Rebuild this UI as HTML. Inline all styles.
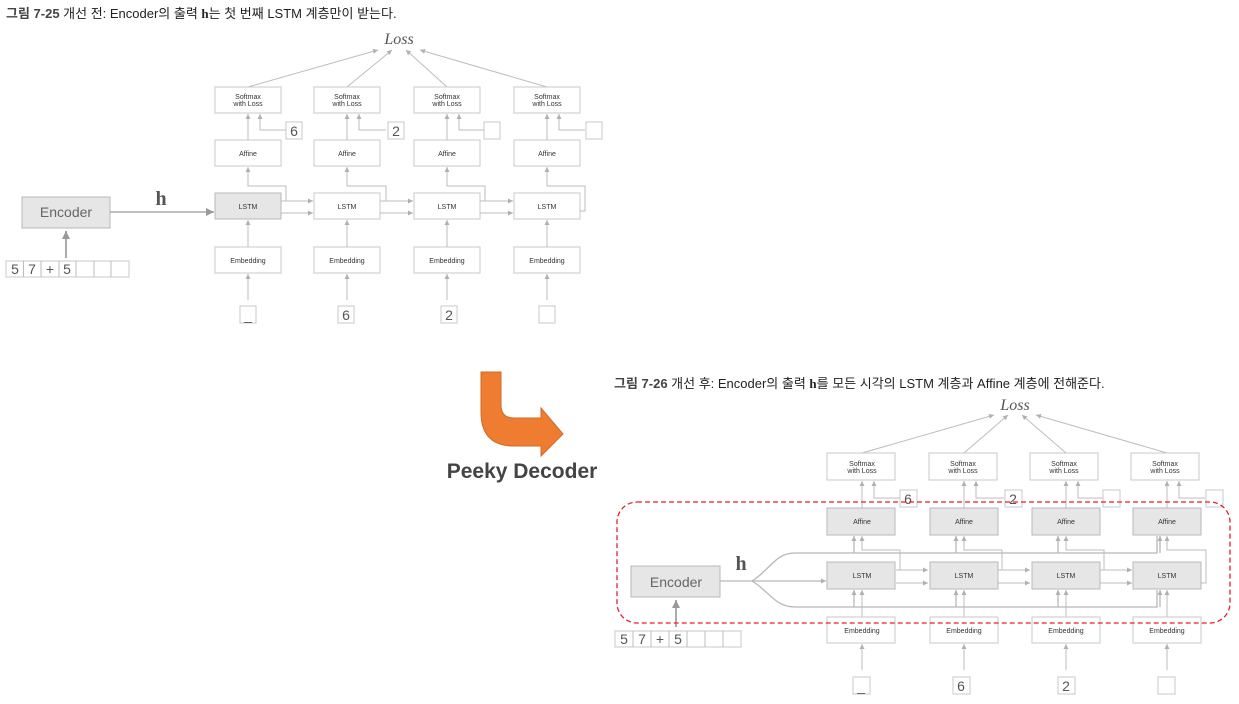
<!DOCTYPE html>
<html><head><meta charset="utf-8"><style>
body{margin:0;background:#fff;}
svg{display:block;font-family:"Liberation Sans","Noto Sans CJK KR",sans-serif;}
.b{fill:#fff;stroke:#c8c8c8;stroke-width:1}
.g{fill:#e6e6e6;stroke:#b8b8b8;stroke-width:1}
.l{fill:none;stroke:#bdbdbd;stroke-width:1}
.t{font-size:7px;fill:#333;text-anchor:middle}
.n{font-size:14px;fill:#555;text-anchor:middle}
</style></head><body>
<svg width="1239" height="704" viewBox="0 0 1239 704">
<defs><marker id="a" markerWidth="6" markerHeight="6" refX="5" refY="3" orient="auto" markerUnits="userSpaceOnUse"><path d="M0,0.5L5,3L0,5.5z" fill="#b0b0b0"/></marker>
<marker id="A" markerWidth="10" markerHeight="10" refX="8" refY="5" orient="auto" markerUnits="userSpaceOnUse"><path d="M0,1L8,5L0,9z" fill="#999"/></marker></defs>

<text x="6" y="18" font-size="13" fill="#222"><tspan font-weight="bold" fill="#444">그림 7-25</tspan>  개선 전: Encoder의 출력 <tspan font-family="Liberation Serif" font-weight="bold">h</tspan>는 첫 번째 LSTM 계층만이 받는다.</text>
<text x="399" y="44" font-size="16" font-style="italic" font-family="Liberation Serif" fill="#555" text-anchor="middle">Loss</text>

<g class="l">
<line x1="248" y1="87" x2="378" y2="50" marker-end="url(#a)"/>
<line x1="347" y1="87" x2="392" y2="50" marker-end="url(#a)"/>
<line x1="447" y1="87" x2="406" y2="50" marker-end="url(#a)"/>
<line x1="547" y1="87" x2="420" y2="50" marker-end="url(#a)"/>
</g>
<g>
<rect class="g" x="22" y="197" width="88" height="31"/>
<text x="66" y="217" font-size="14" fill="#666" text-anchor="middle">Encoder</text>
<line x1="66" y1="258" x2="66" y2="231" stroke="#aaa" stroke-width="2" marker-end="url(#A)"/>
<line x1="110" y1="212" x2="214" y2="212" stroke="#aaa" stroke-width="1.5" marker-end="url(#A)"/>
<text x="161" y="205" font-size="20" font-weight="bold" font-family="Liberation Serif" fill="#555" text-anchor="middle">h</text>
<rect class="b" x="6" y="261" width="123" height="16"/>
<g class="l"><line x1="23.5" y1="261" x2="23.5" y2="277"/><line x1="41" y1="261" x2="41" y2="277"/><line x1="59" y1="261" x2="59" y2="277"/><line x1="76" y1="261" x2="76" y2="277"/><line x1="94" y1="261" x2="94" y2="277"/><line x1="111" y1="261" x2="111" y2="277"/></g>
<text class="n" x="15" y="274">5</text><text class="n" x="32" y="274">7</text><text class="n" x="50" y="274">+</text><text class="n" x="67" y="274">5</text>
</g>

<g>
<rect class="b" x="215" y="87" width="66" height="26"/><text class="t" x="248" y="99">Softmax</text><text class="t" x="248" y="106">with Loss</text>
<rect class="b" x="314" y="87" width="66" height="26"/><text class="t" x="347" y="99">Softmax</text><text class="t" x="347" y="106">with Loss</text>
<rect class="b" x="414" y="87" width="66" height="26"/><text class="t" x="447" y="99">Softmax</text><text class="t" x="447" y="106">with Loss</text>
<rect class="b" x="514" y="87" width="66" height="26"/><text class="t" x="547" y="99">Softmax</text><text class="t" x="547" y="106">with Loss</text>

<rect class="b" x="215" y="140" width="66" height="26"/><text class="t" x="248" y="156">Affine</text>
<rect class="b" x="314" y="140" width="66" height="26"/><text class="t" x="347" y="156">Affine</text>
<rect class="b" x="414" y="140" width="66" height="26"/><text class="t" x="447" y="156">Affine</text>
<rect class="b" x="514" y="140" width="66" height="26"/><text class="t" x="547" y="156">Affine</text>

<rect class="g" x="215" y="193" width="66" height="26"/><text class="t" x="248" y="209">LSTM</text>
<rect class="b" x="314" y="193" width="66" height="26"/><text class="t" x="347" y="209">LSTM</text>
<rect class="b" x="414" y="193" width="66" height="26"/><text class="t" x="447" y="209">LSTM</text>
<rect class="b" x="514" y="193" width="66" height="26"/><text class="t" x="547" y="209">LSTM</text>

<rect class="b" x="215" y="247" width="66" height="26"/><text class="t" x="248" y="263">Embedding</text>
<rect class="b" x="314" y="247" width="66" height="26"/><text class="t" x="347" y="263">Embedding</text>
<rect class="b" x="414" y="247" width="66" height="26"/><text class="t" x="447" y="263">Embedding</text>
<rect class="b" x="514" y="247" width="66" height="26"/><text class="t" x="547" y="263">Embedding</text>

<g class="l">
<line x1="248" y1="140" x2="248" y2="114" marker-end="url(#a)"/><line x1="347" y1="140" x2="347" y2="114" marker-end="url(#a)"/><line x1="447" y1="140" x2="447" y2="114" marker-end="url(#a)"/><line x1="547" y1="140" x2="547" y2="114" marker-end="url(#a)"/>
<polyline points="286,130 260,130 260,114" marker-end="url(#a)"/><polyline points="386,130 359,130 359,114" marker-end="url(#a)"/><polyline points="484,130 459,130 459,114" marker-end="url(#a)"/><polyline points="585,130 559,130 559,114" marker-end="url(#a)"/>
<polyline points="281,201 286,201 286,186 248,186 248,167" marker-end="url(#a)"/>
<polyline points="380,201 386,201 386,186 347,186 347,167" marker-end="url(#a)"/>
<polyline points="480,201 485,201 485,186 447,186 447,167" marker-end="url(#a)"/>
<polyline points="580,211 585,211 585,186 547,186 547,167" marker-end="url(#a)"/>
<line x1="281" y1="201" x2="313" y2="201" marker-end="url(#a)"/><line x1="281" y1="213" x2="313" y2="213" marker-end="url(#a)"/>
<line x1="380" y1="201" x2="413" y2="201" marker-end="url(#a)"/><line x1="380" y1="213" x2="413" y2="213" marker-end="url(#a)"/>
<line x1="480" y1="201" x2="513" y2="201" marker-end="url(#a)"/><line x1="480" y1="213" x2="513" y2="213" marker-end="url(#a)"/>
<line x1="248" y1="247" x2="248" y2="220" marker-end="url(#a)"/><line x1="347" y1="247" x2="347" y2="220" marker-end="url(#a)"/><line x1="447" y1="247" x2="447" y2="220" marker-end="url(#a)"/><line x1="547" y1="247" x2="547" y2="220" marker-end="url(#a)"/>
<line x1="248" y1="300" x2="248" y2="274" marker-end="url(#a)"/><line x1="347" y1="300" x2="347" y2="274" marker-end="url(#a)"/><line x1="447" y1="300" x2="447" y2="274" marker-end="url(#a)"/><line x1="547" y1="300" x2="547" y2="274" marker-end="url(#a)"/>
</g>
<rect class="b" x="286" y="122" width="16" height="17"/><text class="n" x="294" y="136">6</text>
<rect class="b" x="388" y="122" width="16" height="17"/><text class="n" x="396" y="136">2</text>
<rect class="b" x="484" y="122" width="16" height="17"/>
<rect class="b" x="586" y="122" width="16" height="17"/>
<rect class="b" x="240" y="306" width="16" height="17"/><text class="n" x="248" y="320">_</text>
<rect class="b" x="338" y="306" width="16" height="17"/><text class="n" x="346" y="320">6</text>
<rect class="b" x="441" y="306" width="16" height="17"/><text class="n" x="449" y="320">2</text>
<rect class="b" x="539" y="306" width="16" height="17"/>
</g>

<path d="M481,372 H501 V405 Q501,418 514,418 H541 V408 L563,434 L541,456 V446 H514 Q481,446 481,412 Z" fill="#ee7d31" stroke="#d06a25" stroke-width="1"/>
<text x="522" y="478" font-size="21" font-weight="bold" fill="#444" text-anchor="middle">Peeky Decoder</text>

<text x="614" y="388" font-size="13" fill="#222"><tspan font-weight="bold" fill="#444">그림 7-26</tspan>  개선 후: Encoder의 출력 <tspan font-family="Liberation Serif" font-weight="bold">h</tspan>를 모든 시각의 LSTM 계층과 Affine 계층에 전해준다.</text>
<text x="1015" y="410" font-size="16" font-style="italic" font-family="Liberation Serif" fill="#555" text-anchor="middle">Loss</text>
<g class="l">
<line x1="862" y1="453" x2="994" y2="415" marker-end="url(#a)"/>
<line x1="964" y1="453" x2="1008" y2="415" marker-end="url(#a)"/>
<line x1="1066" y1="453" x2="1022" y2="415" marker-end="url(#a)"/>
<line x1="1167" y1="453" x2="1036" y2="415" marker-end="url(#a)"/>
</g>
<rect class="g" x="631" y="566" width="89" height="31"/>
<text x="676" y="587" font-size="14" fill="#666" text-anchor="middle">Encoder</text>
<line x1="676" y1="627" x2="676" y2="600" stroke="#aaa" stroke-width="2" marker-end="url(#A)"/>
<text x="741" y="570" font-size="20" font-weight="bold" font-family="Liberation Serif" fill="#555" text-anchor="middle">h</text>
<rect class="b" x="615" y="631" width="126" height="16"/>
<g class="l"><line x1="633" y1="631" x2="633" y2="647"/><line x1="651" y1="631" x2="651" y2="647"/><line x1="669" y1="631" x2="669" y2="647"/><line x1="687" y1="631" x2="687" y2="647"/><line x1="705" y1="631" x2="705" y2="647"/><line x1="723" y1="631" x2="723" y2="647"/></g>
<text class="n" x="624" y="644">5</text><text class="n" x="642" y="644">7</text><text class="n" x="660" y="644">+</text><text class="n" x="678" y="644">5</text>

<g stroke="#b8b8b8" stroke-width="1.3" fill="none">
<line x1="720" y1="581" x2="826" y2="581" marker-end="url(#a)"/>
<path d="M752,581 C770,570 775,553 795,553 H1157 V536" />
<path d="M752,581 C770,592 775,607 795,607 H1157 V590" />
<path d="M854,553 V536" marker-end="url(#a)"/><path d="M956,553 V536" marker-end="url(#a)"/><path d="M1058,553 V536" marker-end="url(#a)"/><path d="M1160,553 V536" marker-end="url(#a)"/>
<path d="M854,607 V590" marker-end="url(#a)"/><path d="M956,607 V590" marker-end="url(#a)"/><path d="M1058,607 V590" marker-end="url(#a)"/><path d="M1160,607 V590" marker-end="url(#a)"/>
</g>
<g class="l">
<line x1="862" y1="508" x2="862" y2="481" marker-end="url(#a)"/><line x1="964" y1="508" x2="964" y2="481" marker-end="url(#a)"/><line x1="1066" y1="508" x2="1066" y2="481" marker-end="url(#a)"/><line x1="1167" y1="508" x2="1167" y2="481" marker-end="url(#a)"/>
<polyline points="900,498 874,498 874,481" marker-end="url(#a)"/><polyline points="1004,498 976,498 976,481" marker-end="url(#a)"/><polyline points="1103,498 1078,498 1078,481" marker-end="url(#a)"/><polyline points="1205,498 1179,498 1179,481" marker-end="url(#a)"/>
<polyline points="896,570 900,570 900,550 862,550 862,536" marker-end="url(#a)"/>
<polyline points="998,570 1002,570 1002,550 964,550 964,536" marker-end="url(#a)"/>
<polyline points="1100,570 1104,570 1104,550 1066,550 1066,536" marker-end="url(#a)"/>
<polyline points="1201,583 1206,583 1206,550 1167,550 1167,536" marker-end="url(#a)"/>
<line x1="896" y1="570" x2="928" y2="570" marker-end="url(#a)"/><line x1="896" y1="583" x2="928" y2="583" marker-end="url(#a)"/>
<line x1="998" y1="570" x2="1030" y2="570" marker-end="url(#a)"/><line x1="998" y1="583" x2="1030" y2="583" marker-end="url(#a)"/>
<line x1="1100" y1="570" x2="1132" y2="570" marker-end="url(#a)"/><line x1="1100" y1="583" x2="1132" y2="583" marker-end="url(#a)"/>
<line x1="862" y1="617" x2="862" y2="590" marker-end="url(#a)"/><line x1="964" y1="617" x2="964" y2="590" marker-end="url(#a)"/><line x1="1066" y1="617" x2="1066" y2="590" marker-end="url(#a)"/><line x1="1167" y1="617" x2="1167" y2="590" marker-end="url(#a)"/>
<line x1="862" y1="670" x2="862" y2="644" marker-end="url(#a)"/><line x1="964" y1="670" x2="964" y2="644" marker-end="url(#a)"/><line x1="1066" y1="670" x2="1066" y2="644" marker-end="url(#a)"/><line x1="1167" y1="670" x2="1167" y2="644" marker-end="url(#a)"/>
</g>
<rect class="b" x="827" y="453" width="68" height="27"/><text class="t" x="862" y="466">Softmax</text><text class="t" x="862" y="473">with Loss</text>
<rect class="b" x="929" y="453" width="68" height="27"/><text class="t" x="963" y="466">Softmax</text><text class="t" x="963" y="473">with Loss</text>
<rect class="b" x="1030" y="453" width="68" height="27"/><text class="t" x="1064" y="466">Softmax</text><text class="t" x="1064" y="473">with Loss</text>
<rect class="b" x="1131" y="453" width="68" height="27"/><text class="t" x="1165" y="466">Softmax</text><text class="t" x="1165" y="473">with Loss</text>
<rect class="g" x="827" y="508" width="68" height="27"/><text class="t" x="862" y="524">Affine</text>
<rect class="g" x="930" y="508" width="68" height="27"/><text class="t" x="964" y="524">Affine</text>
<rect class="g" x="1032" y="508" width="68" height="27"/><text class="t" x="1066" y="524">Affine</text>
<rect class="g" x="1133" y="508" width="68" height="27"/><text class="t" x="1167" y="524">Affine</text>
<rect class="g" x="827" y="562" width="68" height="27"/><text class="t" x="862" y="578">LSTM</text>
<rect class="g" x="930" y="562" width="68" height="27"/><text class="t" x="964" y="578">LSTM</text>
<rect class="g" x="1032" y="562" width="68" height="27"/><text class="t" x="1066" y="578">LSTM</text>
<rect class="g" x="1133" y="562" width="68" height="27"/><text class="t" x="1167" y="578">LSTM</text>
<rect class="b" x="827" y="617" width="68" height="26"/><text class="t" x="862" y="633">Embedding</text>
<rect class="b" x="930" y="617" width="68" height="26"/><text class="t" x="964" y="633">Embedding</text>
<rect class="b" x="1032" y="617" width="68" height="26"/><text class="t" x="1066" y="633">Embedding</text>
<rect class="b" x="1133" y="617" width="68" height="26"/><text class="t" x="1167" y="633">Embedding</text>
<rect class="b" x="900" y="490" width="17" height="17"/><text class="n" x="908" y="504">6</text>
<rect class="b" x="1005" y="490" width="17" height="17"/><text class="n" x="1013" y="504">2</text>
<rect class="b" x="1103" y="490" width="17" height="17"/>
<rect class="b" x="1206" y="490" width="17" height="17"/>
<rect class="b" x="853" y="677" width="17" height="17"/><text class="n" x="861" y="691">_</text>
<rect class="b" x="953" y="677" width="17" height="17"/><text class="n" x="961" y="691">6</text>
<rect class="b" x="1058" y="677" width="17" height="17"/><text class="n" x="1066" y="691">2</text>
<rect class="b" x="1158" y="677" width="17" height="17"/>
<rect x="617" y="502" width="613" height="121" rx="20" fill="none" stroke="#e8202a" stroke-width="1.3" stroke-dasharray="5,3"/>
</svg>
</body></html>
